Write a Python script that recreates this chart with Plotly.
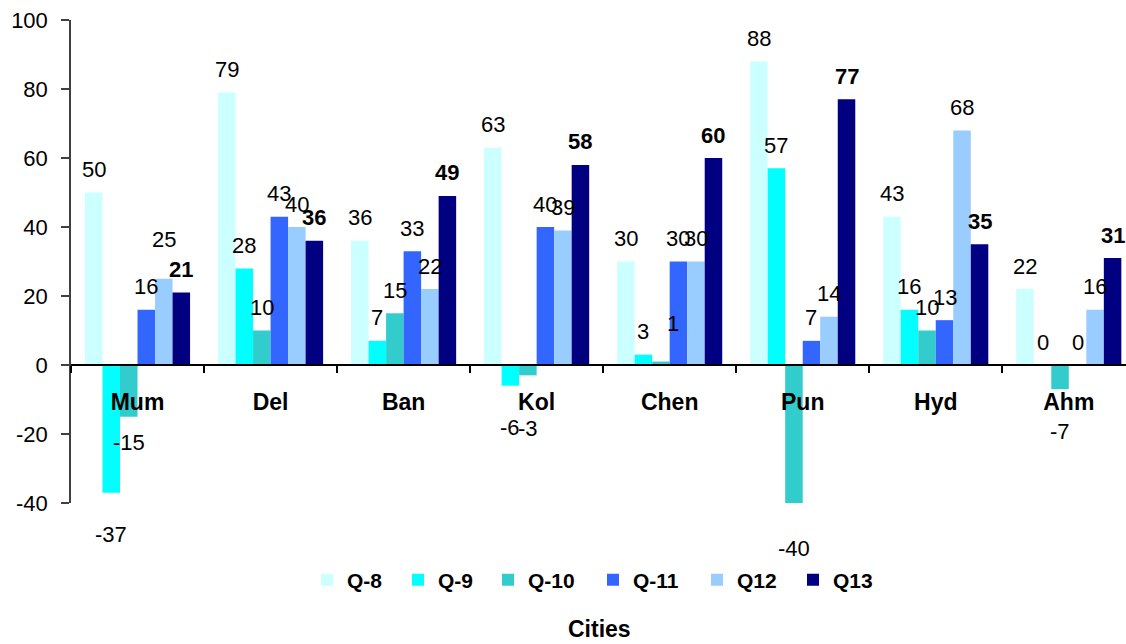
import plotly.graph_objects as go

# City survey results per question
cities = ["Mum", "Del", "Ban", "Kol", "Chen", "Pun", "Hyd", "Ahm"]
series_names = ["Q-8", "Q-9", "Q-10", "Q-11", "Q12", "Q13"]

q8 = [50, 79, 36, 63, 30, 88, 43, 22]
q9 = [-37, 28, 7, -6, 3, 57, 16, 0]
q10 = [-15, 10, 15, -3, 1, -40, 10, -7]
q11 = [16, 43, 33, 40, 30, 7, 13, 0]
q12 = [25, 40, 22, 39, 30, 14, 68, 16]
q13 = [21, 36, 49, 58, 60, 77, 35, 31]

y_ticks = [-40, -20, 0, 20, 40, 60, 80, 100]
y_tick_labels = ["-40", "-20", "0", "20", "40", "60", "80", "100"]

series_values = [q8, q9, q10, q11, q12, q13]
colors = ["#CCFFFF", "#00FFFF", "#33CCCC", "#3366FF", "#99CCFF", "#000080"]
bold_labels = [False, False, False, False, False, True]

FONT = "Liberation Sans, Arial, sans-serif"
BARGAP = 0.21
W, H = 1126, 644
ML, MR, MT, MB = 71, 0, 20, 141
PLOT_W, PLOT_H = W - ML - MR, H - MT - MB

# left edge (px) of each legend entry's swatch
legend_left_px = [326, 417, 507, 612, 716, 812]

# hand-placed label adjustments (series index, city index) -> (dx, dy) in px
label_nudge = {
    (4, 0): (0, 16),
    (2, 0): (0, 16),
    (2, 3): (0, -11),
    (2, 5): (0, -3),
    (2, 4): (12, 15),
}

fig = go.Figure()
for i, (name, vals, col) in enumerate(zip(series_names, series_values, colors)):
    fig.add_trace(go.Bar(
        name=name, x=cities, y=vals,
        marker=dict(color=col, line=dict(width=0)),
        legend="legend" if i == 0 else f"legend{i + 1}",
    ))

# value labels above/below each bar
n = len(series_names)
group = 1 - BARGAP
bw = group / n
annotations = []
for si, vals in enumerate(series_values):
    off = -group / 2 + (si + 0.5) * bw
    for ci, v in enumerate(vals):
        dx, dy = label_nudge.get((si, ci), (0, 0))
        shift = 23 if v >= 0 else -42
        txt = f"<b>{v}</b>" if bold_labels[si] else str(v)
        annotations.append(dict(
            x=ci + off, y=v, xref="x", yref="y", text=txt,
            showarrow=False, xanchor="center", yanchor="middle",
            xshift=dx, yshift=shift + dy,
            font=dict(family=FONT, size=22, color="#000000"),
        ))

# category axis title
annotations.append(dict(
    x=(599 - ML) / PLOT_W, y=(PLOT_H + MT - 629) / PLOT_H,
    xref="paper", yref="paper", text="<b>Cities</b>", showarrow=False,
    xanchor="center", yanchor="middle",
    font=dict(family=FONT, size=23, color="#000000"),
))

legend_style = dict(
    orientation="h", yanchor="middle", xanchor="left",
    y=(PLOT_H + MT - 580) / PLOT_H,
    font=dict(family=FONT, size=21, color="#000000", weight="bold"),
    itemclick=False, bgcolor="rgba(0,0,0,0)", borderwidth=0,
)
legends = {}
for i, px in enumerate(legend_left_px):
    key = "legend" if i == 0 else f"legend{i + 1}"
    legends[key] = dict(legend_style, x=(px - 19 - ML) / PLOT_W)

fig.update_layout(
    barmode="group", bargap=BARGAP, bargroupgap=0,
    width=W, height=H,
    margin=dict(l=ML, r=MR, t=MT, b=MB),
    paper_bgcolor="white", plot_bgcolor="white",
    font=dict(family=FONT, color="#000000"),
    annotations=annotations,
    showlegend=True,
    xaxis=dict(
        type="category", range=[-0.5, 7.43],
        anchor="free", position=40 / 140,
        showline=True, linecolor="#000000", linewidth=1.5,
        ticks="outside", tickson="boundaries", ticklen=7, tickcolor="#000000",
        tickwidth=1.5,
        tickfont=dict(family=FONT, size=23, color="#000000", weight="bold"),
        ticklabelstandoff=17,
        showgrid=False, zeroline=False,
    ),
    yaxis=dict(
        range=[-40, 100], tickvals=y_ticks, ticktext=y_tick_labels,
        showline=True, linecolor="#404040", linewidth=1.5,
        ticks="outside", ticklen=8, tickcolor="#404040", tickwidth=1.5,
        tickfont=dict(family=FONT, size=22, color="#000000"),
        ticklabelstandoff=9,
        showgrid=False, zeroline=False,
    ),
    **legends,
)

fig.write_html("out.html")
